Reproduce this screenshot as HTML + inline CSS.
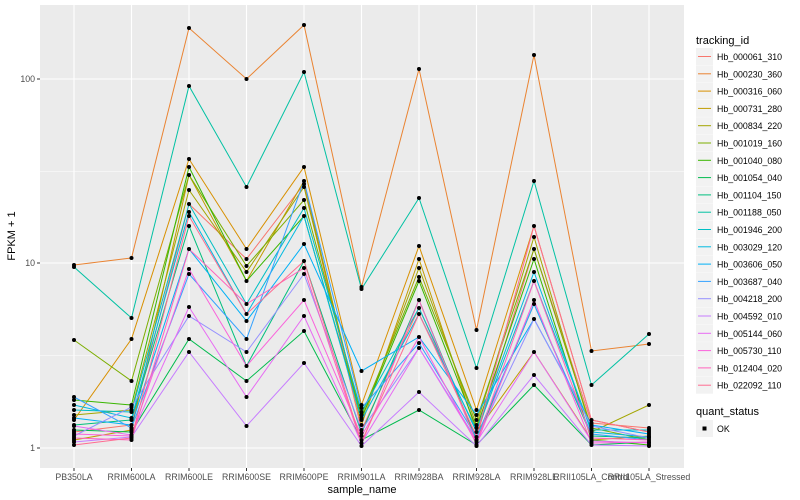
<!DOCTYPE html>
<html><head><meta charset="utf-8"><style>
body{margin:0;background:#fff;}
svg{display:block;font-family:"Liberation Sans",sans-serif;}
</style></head><body>
<svg width="800" height="500" viewBox="0 0 800 500">
<rect x="40" y="5" width="644" height="463" fill="#EBEBEB"/>
<g stroke="#fff">
<line x1="40" x2="684" y1="355.75" y2="355.75" stroke-width="0.55"/>
<line x1="40" x2="684" y1="171.25" y2="171.25" stroke-width="0.55"/>
<line x1="40" x2="684" y1="448" y2="448" stroke-width="1.1"/>
<line x1="40" x2="684" y1="263" y2="263" stroke-width="1.1"/>
<line x1="40" x2="684" y1="79" y2="79" stroke-width="1.1"/>
<g stroke-width="1.1">
<line x1="74" x2="74" y1="5" y2="468"/><line x1="131.5" x2="131.5" y1="5" y2="468"/>
<line x1="189" x2="189" y1="5" y2="468"/><line x1="246.5" x2="246.5" y1="5" y2="468"/>
<line x1="304" x2="304" y1="5" y2="468"/><line x1="361.5" x2="361.5" y1="5" y2="468"/>
<line x1="419" x2="419" y1="5" y2="468"/><line x1="476.5" x2="476.5" y1="5" y2="468"/>
<line x1="534" x2="534" y1="5" y2="468"/><line x1="591.5" x2="591.5" y1="5" y2="468"/>
<line x1="649" x2="649" y1="5" y2="468"/>
</g></g>
<g fill="none" stroke-width="1">
<polyline stroke="#F8766D" points="74,432 131.5,425 189,204 246.5,259 304,184 361.5,430 419,308 476.5,437 534,249 591.5,423 649,428"/>
<polyline stroke="#EA8331" points="74,265 131.5,258 189,28 246.5,79 304,25 361.5,287 419,69 476.5,330 534,55 591.5,351 649,344"/>
<polyline stroke="#D89000" points="74,420 131.5,339 189,159 246.5,249 304,167 361.5,405 419,246 476.5,410 534,226 591.5,420 649,432"/>
<polyline stroke="#C09B00" points="74,440 131.5,430 189,175 246.5,281 304,181 361.5,425 419,259 476.5,432 534,352 591.5,440 649,436"/>
<polyline stroke="#A3A500" points="74,415 131.5,410 189,190 246.5,272 304,187 361.5,420 419,268 476.5,425 534,237 591.5,432 649,405"/>
<polyline stroke="#7CAE00" points="74,340 131.5,381 189,175 246.5,266 304,200 361.5,415 419,277 476.5,420 534,249 591.5,428 649,440"/>
<polyline stroke="#39B600" points="74,400 131.5,405 189,167 246.5,281 304,216 361.5,418 419,281 476.5,428 534,259 591.5,440 649,445"/>
<polyline stroke="#00BB4E" points="74,430 131.5,432 189,339 246.5,381 304,331 361.5,440 419,410 476.5,445 534,385 591.5,445 649,442"/>
<polyline stroke="#00BF7D" points="74,425 131.5,420 189,226 246.5,366 304,261 361.5,433 419,300 476.5,440 534,304 591.5,436 649,438"/>
<polyline stroke="#00C1A3" points="74,267 131.5,318 189,86 246.5,187 304,72 361.5,289 419,198 476.5,368 534,181 591.5,385 649,334"/>
<polyline stroke="#00BFC4" points="74,410 131.5,412 189,204 246.5,304 304,208 361.5,412 419,308 476.5,432 534,281 591.5,430 649,430"/>
<polyline stroke="#00BAE0" points="74,405 131.5,418 189,212 246.5,314 304,216 361.5,420 419,314 476.5,430 534,272 591.5,432 649,437"/>
<polyline stroke="#00B0F6" points="74,418 131.5,425 189,249 246.5,321 304,244 361.5,371 419,337 476.5,415 534,319 591.5,425 649,434"/>
<polyline stroke="#35A2FF" points="74,397 131.5,428 189,274 246.5,339 304,181 361.5,408 419,343 476.5,437 534,304 591.5,434 649,440"/>
<polyline stroke="#9590FF" points="74,436 131.5,407 189,316 246.5,352 304,274 361.5,430 419,348 476.5,440 534,319 591.5,426 649,438"/>
<polyline stroke="#C77CFF" points="74,442 131.5,437 189,352 246.5,426 304,363 361.5,446 419,392 476.5,446 534,375 591.5,445 649,446"/>
<polyline stroke="#E76BF3" points="74,426 131.5,435 189,307 246.5,397 304,316 361.5,443 419,348 476.5,442 534,352 591.5,441 649,443"/>
<polyline stroke="#FA62DB" points="74,434 131.5,436 189,269 246.5,366 304,300 361.5,436 419,337 476.5,444 534,300 591.5,443 649,442"/>
<polyline stroke="#FF62BC" points="74,438 131.5,440 189,249 246.5,304 304,268 361.5,444 419,300 476.5,443 534,281 591.5,438 649,440"/>
<polyline stroke="#FF6C91" points="74,445 131.5,438 189,216 246.5,314 304,261 361.5,442 419,314 476.5,436 534,226 591.5,420 649,432"/>
</g>
<g id="pts" fill="#000"></g>
<g fill="#000">
<!-- points -->
<g>
<circle cx="74" cy="432" r="2"/><circle cx="74" cy="265" r="2"/><circle cx="74" cy="420" r="2"/><circle cx="74" cy="440" r="2"/><circle cx="74" cy="415" r="2"/><circle cx="74" cy="340" r="2"/><circle cx="74" cy="400" r="2"/><circle cx="74" cy="430" r="2"/><circle cx="74" cy="425" r="2"/><circle cx="74" cy="267" r="2"/><circle cx="74" cy="410" r="2"/><circle cx="74" cy="405" r="2"/><circle cx="74" cy="418" r="2"/><circle cx="74" cy="397" r="2"/><circle cx="74" cy="436" r="2"/><circle cx="74" cy="442" r="2"/><circle cx="74" cy="426" r="2"/><circle cx="74" cy="434" r="2"/><circle cx="74" cy="438" r="2"/><circle cx="74" cy="445" r="2"/>
<circle cx="131.5" cy="425" r="2"/><circle cx="131.5" cy="258" r="2"/><circle cx="131.5" cy="339" r="2"/><circle cx="131.5" cy="430" r="2"/><circle cx="131.5" cy="410" r="2"/><circle cx="131.5" cy="381" r="2"/><circle cx="131.5" cy="405" r="2"/><circle cx="131.5" cy="432" r="2"/><circle cx="131.5" cy="420" r="2"/><circle cx="131.5" cy="318" r="2"/><circle cx="131.5" cy="412" r="2"/><circle cx="131.5" cy="418" r="2"/><circle cx="131.5" cy="428" r="2"/><circle cx="131.5" cy="407" r="2"/><circle cx="131.5" cy="437" r="2"/><circle cx="131.5" cy="435" r="2"/><circle cx="131.5" cy="436" r="2"/><circle cx="131.5" cy="440" r="2"/><circle cx="131.5" cy="438" r="2"/>
<circle cx="189" cy="204" r="2"/><circle cx="189" cy="28" r="2"/><circle cx="189" cy="159" r="2"/><circle cx="189" cy="175" r="2"/><circle cx="189" cy="190" r="2"/><circle cx="189" cy="167" r="2"/><circle cx="189" cy="339" r="2"/><circle cx="189" cy="226" r="2"/><circle cx="189" cy="86" r="2"/><circle cx="189" cy="212" r="2"/><circle cx="189" cy="249" r="2"/><circle cx="189" cy="274" r="2"/><circle cx="189" cy="316" r="2"/><circle cx="189" cy="352" r="2"/><circle cx="189" cy="307" r="2"/><circle cx="189" cy="269" r="2"/><circle cx="189" cy="216" r="2"/>
<circle cx="246.5" cy="259" r="2"/><circle cx="246.5" cy="79" r="2"/><circle cx="246.5" cy="249" r="2"/><circle cx="246.5" cy="281" r="2"/><circle cx="246.5" cy="272" r="2"/><circle cx="246.5" cy="266" r="2"/><circle cx="246.5" cy="381" r="2"/><circle cx="246.5" cy="366" r="2"/><circle cx="246.5" cy="187" r="2"/><circle cx="246.5" cy="304" r="2"/><circle cx="246.5" cy="314" r="2"/><circle cx="246.5" cy="321" r="2"/><circle cx="246.5" cy="339" r="2"/><circle cx="246.5" cy="352" r="2"/><circle cx="246.5" cy="426" r="2"/><circle cx="246.5" cy="397" r="2"/>
<circle cx="304" cy="184" r="2"/><circle cx="304" cy="25" r="2"/><circle cx="304" cy="167" r="2"/><circle cx="304" cy="181" r="2"/><circle cx="304" cy="187" r="2"/><circle cx="304" cy="200" r="2"/><circle cx="304" cy="216" r="2"/><circle cx="304" cy="331" r="2"/><circle cx="304" cy="261" r="2"/><circle cx="304" cy="72" r="2"/><circle cx="304" cy="208" r="2"/><circle cx="304" cy="244" r="2"/><circle cx="304" cy="274" r="2"/><circle cx="304" cy="363" r="2"/><circle cx="304" cy="316" r="2"/><circle cx="304" cy="300" r="2"/><circle cx="304" cy="268" r="2"/>
<circle cx="361.5" cy="430" r="2"/><circle cx="361.5" cy="287" r="2"/><circle cx="361.5" cy="405" r="2"/><circle cx="361.5" cy="425" r="2"/><circle cx="361.5" cy="420" r="2"/><circle cx="361.5" cy="415" r="2"/><circle cx="361.5" cy="418" r="2"/><circle cx="361.5" cy="440" r="2"/><circle cx="361.5" cy="433" r="2"/><circle cx="361.5" cy="289" r="2"/><circle cx="361.5" cy="412" r="2"/><circle cx="361.5" cy="371" r="2"/><circle cx="361.5" cy="408" r="2"/><circle cx="361.5" cy="446" r="2"/><circle cx="361.5" cy="443" r="2"/><circle cx="361.5" cy="436" r="2"/>
<circle cx="419" cy="308" r="2"/><circle cx="419" cy="69" r="2"/><circle cx="419" cy="246" r="2"/><circle cx="419" cy="259" r="2"/><circle cx="419" cy="268" r="2"/><circle cx="419" cy="277" r="2"/><circle cx="419" cy="281" r="2"/><circle cx="419" cy="410" r="2"/><circle cx="419" cy="300" r="2"/><circle cx="419" cy="198" r="2"/><circle cx="419" cy="314" r="2"/><circle cx="419" cy="337" r="2"/><circle cx="419" cy="343" r="2"/><circle cx="419" cy="348" r="2"/><circle cx="419" cy="392" r="2"/>
<circle cx="476.5" cy="437" r="2"/><circle cx="476.5" cy="330" r="2"/><circle cx="476.5" cy="410" r="2"/><circle cx="476.5" cy="432" r="2"/><circle cx="476.5" cy="425" r="2"/><circle cx="476.5" cy="420" r="2"/><circle cx="476.5" cy="428" r="2"/><circle cx="476.5" cy="445" r="2"/><circle cx="476.5" cy="440" r="2"/><circle cx="476.5" cy="368" r="2"/><circle cx="476.5" cy="415" r="2"/><circle cx="476.5" cy="446" r="2"/><circle cx="476.5" cy="442" r="2"/>
<circle cx="534" cy="249" r="2"/><circle cx="534" cy="55" r="2"/><circle cx="534" cy="226" r="2"/><circle cx="534" cy="352" r="2"/><circle cx="534" cy="237" r="2"/><circle cx="534" cy="259" r="2"/><circle cx="534" cy="385" r="2"/><circle cx="534" cy="304" r="2"/><circle cx="534" cy="181" r="2"/><circle cx="534" cy="281" r="2"/><circle cx="534" cy="272" r="2"/><circle cx="534" cy="319" r="2"/><circle cx="534" cy="375" r="2"/><circle cx="534" cy="300" r="2"/>
<circle cx="591.5" cy="423" r="2"/><circle cx="591.5" cy="351" r="2"/><circle cx="591.5" cy="420" r="2"/><circle cx="591.5" cy="440" r="2"/><circle cx="591.5" cy="432" r="2"/><circle cx="591.5" cy="428" r="2"/><circle cx="591.5" cy="445" r="2"/><circle cx="591.5" cy="436" r="2"/><circle cx="591.5" cy="385" r="2"/><circle cx="591.5" cy="430" r="2"/><circle cx="591.5" cy="425" r="2"/><circle cx="591.5" cy="434" r="2"/><circle cx="591.5" cy="426" r="2"/><circle cx="591.5" cy="441" r="2"/><circle cx="591.5" cy="443" r="2"/><circle cx="591.5" cy="438" r="2"/>
<circle cx="649" cy="428" r="2"/><circle cx="649" cy="344" r="2"/><circle cx="649" cy="432" r="2"/><circle cx="649" cy="436" r="2"/><circle cx="649" cy="405" r="2"/><circle cx="649" cy="440" r="2"/><circle cx="649" cy="445" r="2"/><circle cx="649" cy="442" r="2"/><circle cx="649" cy="438" r="2"/><circle cx="649" cy="334" r="2"/><circle cx="649" cy="430" r="2"/><circle cx="649" cy="437" r="2"/><circle cx="649" cy="434" r="2"/><circle cx="649" cy="446" r="2"/><circle cx="649" cy="443" r="2"/>
</g></g>
<g stroke="#333" stroke-width="1">
<line x1="37" x2="40" y1="448" y2="448"/><line x1="37" x2="40" y1="263" y2="263"/><line x1="37" x2="40" y1="79" y2="79"/>
<line x1="74" x2="74" y1="468" y2="471"/><line x1="131.5" x2="131.5" y1="468" y2="471"/><line x1="189" x2="189" y1="468" y2="471"/><line x1="246.5" x2="246.5" y1="468" y2="471"/><line x1="304" x2="304" y1="468" y2="471"/><line x1="361.5" x2="361.5" y1="468" y2="471"/><line x1="419" x2="419" y1="468" y2="471"/><line x1="476.5" x2="476.5" y1="468" y2="471"/><line x1="534" x2="534" y1="468" y2="471"/><line x1="591.5" x2="591.5" y1="468" y2="471"/><line x1="649" x2="649" y1="468" y2="471"/>
</g>
<g fill="#4D4D4D" font-size="8.8" text-anchor="end">
<text x="35" y="451">1</text><text x="35" y="266">10</text><text x="35" y="82">100</text>
</g>
<g fill="#4D4D4D" font-size="8.8" text-anchor="middle">
<text x="74" y="480">PB350LA</text><text x="131.5" y="480">RRIM600LA</text><text x="189" y="480">RRIM600LE</text><text x="246.5" y="480">RRIM600SE</text><text x="304" y="480">RRIM600PE</text><text x="361.5" y="480">RRIM901LA</text><text x="419" y="480">RRIM928BA</text><text x="476.5" y="480">RRIM928LA</text><text x="534" y="480">RRIM928LE</text><text x="591.5" y="480">RRII105LA_Control</text><text x="649" y="480">RRII105LA_Stressed</text>
</g>
<text x="362" y="493" font-size="11" text-anchor="middle" fill="#000">sample_name</text>
<text transform="translate(15,236) rotate(-90)" font-size="11" text-anchor="middle" fill="#000">FPKM + 1</text>
<text x="696" y="44" font-size="11" fill="#000">tracking_id</text>
<g id="leg" font-size="8.8" fill="#000">
<g transform="translate(696,48)"><rect width="17" height="17" fill="#F2F2F2"/><line x1="2" x2="15" y1="8.5" y2="8.5" stroke="#F8766D"/><text x="21" y="12">Hb_000061_310</text></g>
<g transform="translate(696,65.3)"><rect width="17" height="17" fill="#F2F2F2"/><line x1="2" x2="15" y1="8.5" y2="8.5" stroke="#EA8331"/><text x="21" y="12">Hb_000230_360</text></g>
<g transform="translate(696,82.6)"><rect width="17" height="17" fill="#F2F2F2"/><line x1="2" x2="15" y1="8.5" y2="8.5" stroke="#D89000"/><text x="21" y="12">Hb_000316_060</text></g>
<g transform="translate(696,99.9)"><rect width="17" height="17" fill="#F2F2F2"/><line x1="2" x2="15" y1="8.5" y2="8.5" stroke="#C09B00"/><text x="21" y="12">Hb_000731_280</text></g>
<g transform="translate(696,117.2)"><rect width="17" height="17" fill="#F2F2F2"/><line x1="2" x2="15" y1="8.5" y2="8.5" stroke="#A3A500"/><text x="21" y="12">Hb_000834_220</text></g>
<g transform="translate(696,134.5)"><rect width="17" height="17" fill="#F2F2F2"/><line x1="2" x2="15" y1="8.5" y2="8.5" stroke="#7CAE00"/><text x="21" y="12">Hb_001019_160</text></g>
<g transform="translate(696,151.8)"><rect width="17" height="17" fill="#F2F2F2"/><line x1="2" x2="15" y1="8.5" y2="8.5" stroke="#39B600"/><text x="21" y="12">Hb_001040_080</text></g>
<g transform="translate(696,169.1)"><rect width="17" height="17" fill="#F2F2F2"/><line x1="2" x2="15" y1="8.5" y2="8.5" stroke="#00BB4E"/><text x="21" y="12">Hb_001054_040</text></g>
<g transform="translate(696,186.4)"><rect width="17" height="17" fill="#F2F2F2"/><line x1="2" x2="15" y1="8.5" y2="8.5" stroke="#00BF7D"/><text x="21" y="12">Hb_001104_150</text></g>
<g transform="translate(696,203.7)"><rect width="17" height="17" fill="#F2F2F2"/><line x1="2" x2="15" y1="8.5" y2="8.5" stroke="#00C1A3"/><text x="21" y="12">Hb_001188_050</text></g>
<g transform="translate(696,221)"><rect width="17" height="17" fill="#F2F2F2"/><line x1="2" x2="15" y1="8.5" y2="8.5" stroke="#00BFC4"/><text x="21" y="12">Hb_001946_200</text></g>
<g transform="translate(696,238.3)"><rect width="17" height="17" fill="#F2F2F2"/><line x1="2" x2="15" y1="8.5" y2="8.5" stroke="#00BAE0"/><text x="21" y="12">Hb_003029_120</text></g>
<g transform="translate(696,255.6)"><rect width="17" height="17" fill="#F2F2F2"/><line x1="2" x2="15" y1="8.5" y2="8.5" stroke="#00B0F6"/><text x="21" y="12">Hb_003606_050</text></g>
<g transform="translate(696,272.9)"><rect width="17" height="17" fill="#F2F2F2"/><line x1="2" x2="15" y1="8.5" y2="8.5" stroke="#35A2FF"/><text x="21" y="12">Hb_003687_040</text></g>
<g transform="translate(696,290.2)"><rect width="17" height="17" fill="#F2F2F2"/><line x1="2" x2="15" y1="8.5" y2="8.5" stroke="#9590FF"/><text x="21" y="12">Hb_004218_200</text></g>
<g transform="translate(696,307.5)"><rect width="17" height="17" fill="#F2F2F2"/><line x1="2" x2="15" y1="8.5" y2="8.5" stroke="#C77CFF"/><text x="21" y="12">Hb_004592_010</text></g>
<g transform="translate(696,324.8)"><rect width="17" height="17" fill="#F2F2F2"/><line x1="2" x2="15" y1="8.5" y2="8.5" stroke="#E76BF3"/><text x="21" y="12">Hb_005144_060</text></g>
<g transform="translate(696,342.1)"><rect width="17" height="17" fill="#F2F2F2"/><line x1="2" x2="15" y1="8.5" y2="8.5" stroke="#FA62DB"/><text x="21" y="12">Hb_005730_110</text></g>
<g transform="translate(696,359.4)"><rect width="17" height="17" fill="#F2F2F2"/><line x1="2" x2="15" y1="8.5" y2="8.5" stroke="#FF62BC"/><text x="21" y="12">Hb_012404_020</text></g>
<g transform="translate(696,376.7)"><rect width="17" height="17" fill="#F2F2F2"/><line x1="2" x2="15" y1="8.5" y2="8.5" stroke="#FF6C91"/><text x="21" y="12">Hb_022092_110</text></g>
</g>
<text x="696" y="415" font-size="11" fill="#000">quant_status</text>
<rect x="696" y="420" width="17" height="17" fill="#F2F2F2"/>
<rect x="702.5" y="426.5" width="4" height="4" fill="#000"/>
<text x="717" y="432" font-size="8.8" fill="#000">OK</text>
</svg>
</body></html>
